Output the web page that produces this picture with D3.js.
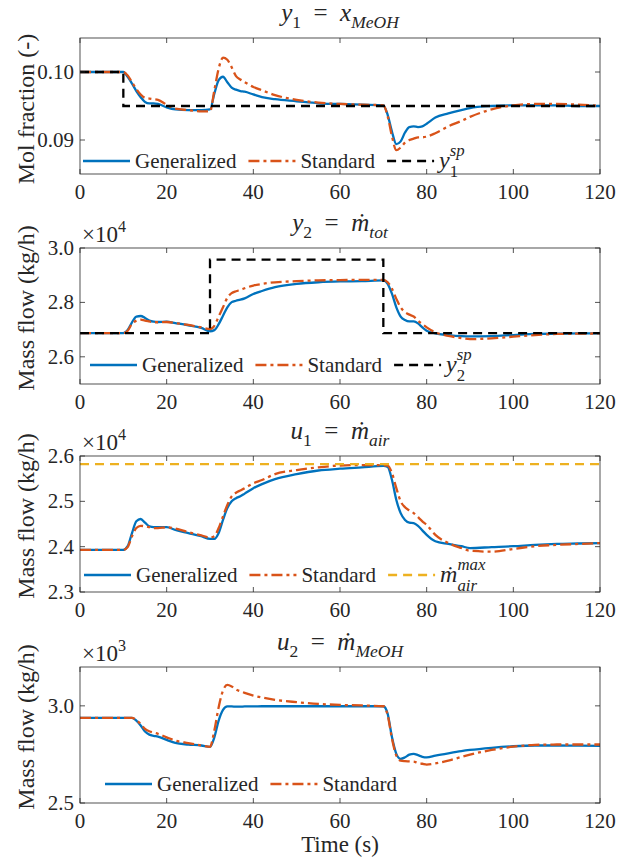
<!DOCTYPE html>
<html>
<head>
<meta charset="utf-8">
<script src="https://cdn.jsdelivr.net/npm/d3@7"></script>
<style>
  body { margin: 0; background: #fff; }
  text { font-family: "Liberation Serif", "Times New Roman", serif; fill: #262626; }
</style>
</head>
<body>
<div id="chart"></div>
<script>
// time grid (s), shared by all simulated series
const time = [0,10,11,12,13,14,15,16,17,18,20,22,25,28,30,31,32,33,34,35,36,37,38,40,42,45,50,55,60,65,70,
  71,72,73,74,75,76,77,78,79,80,82,85,88,90,95,100,105,110,115,120];

// y1 = x_MeOH (mol fraction)
const gen1 = [0.1000,0.1000,0.0993,0.0983,0.0972,0.0963,0.0956,0.0954,0.0954,0.0953,0.0948,0.0945,0.0944,0.0944,0.0945,
  0.0968,0.0988,0.0993,0.0985,0.0977,0.0974,0.0972,0.0971,0.0967,0.0963,0.0960,0.0957,0.0954,0.0953,0.0952,0.0951,
  0.0937,0.0912,0.0894,0.0898,0.0911,0.0919,0.0920,0.0919,0.0920,0.0924,0.0933,0.0939,0.0944,0.0947,0.0950,0.0951,0.0951,0.0951,0.0950,0.0950];
const std1 = [0.1000,0.1000,0.0995,0.0985,0.0975,0.0967,0.0962,0.0961,0.0960,0.0959,0.0952,0.0946,0.0944,0.0942,0.0942,
  0.0973,0.1005,0.1021,0.1018,0.1007,0.0994,0.0989,0.0985,0.0978,0.0973,0.0966,0.0959,0.0955,0.0953,0.0952,0.0951,
  0.0935,0.0905,0.0885,0.0889,0.0896,0.0900,0.0902,0.0904,0.0904,0.0905,0.0910,0.0920,0.0928,0.0934,0.0945,0.0951,0.0953,0.0953,0.0952,0.0950];
const sp1T = [0, 10, 10, 120];
const sp1V = [0.100, 0.100, 0.095, 0.095];

// y2 = total mass flow (kg/h)
const gen2 = [26870,26870,26990,27270,27480,27500,27430,27330,27290,27280,27290,27240,27160,27060,26940,
  26980,27200,27510,27820,28010,28060,28100,28150,28310,28420,28560,28680,28740,28770,28780,28810,
  28680,28310,27820,27480,27350,27300,27300,27230,27080,26960,26860,26800,26760,26750,26760,26800,26840,26850,26860,26860];
const std2 = [26870,26870,26960,27210,27330,27370,27330,27300,27270,27270,27280,27240,27170,27080,27020,
  27140,27480,27820,28170,28340,28410,28460,28520,28620,28680,28740,28780,28810,28820,28830,28830,
  28740,28500,28130,27820,27640,27550,27480,27330,27200,27080,26900,26770,26690,26650,26680,26740,26800,26840,26850,26860];
const sp2T = [0, 30, 30, 70, 70, 120];
const sp2V = [26870, 26870, 29570, 29570, 26870, 26870];

// u1 = air mass flow (kg/h)
const gen3 = [23930,23930,24010,24300,24560,24610,24530,24450,24430,24430,24430,24370,24300,24230,24170,
  24170,24300,24590,24850,25000,25070,25110,25170,25290,25380,25490,25600,25680,25720,25750,25780,
  25760,25470,25030,24740,24590,24530,24520,24460,24360,24260,24120,24060,24010,23970,23990,24010,24040,24060,24070,24080];
const std3 = [23930,23930,23990,24230,24410,24460,24450,24430,24410,24410,24430,24400,24320,24250,24200,
  24230,24410,24670,24920,25110,25190,25240,25290,25400,25470,25600,25690,25750,25790,25800,25800,
  25790,25620,25290,25000,24870,24800,24740,24650,24560,24480,24260,24080,23970,23910,23890,23950,24010,24040,24060,24080];
const max3T = [0, 120];
const max3V = [25820, 25820];

// u2 = methanol mass flow (kg/h)
const gen4 = [2938,2938,2938,2938,2924,2899,2868,2852,2846,2842,2825,2809,2801,2796,2789,
  2838,2924,2979,2997,2997,2996,2996,2997,2997,2998,2998,2998,2998,2998,2998,2998,
  2959,2838,2753,2727,2735,2749,2753,2746,2738,2735,2744,2756,2767,2773,2784,2792,2796,2796,2795,2794];
const std4 = [2938,2938,2938,2938,2927,2907,2881,2869,2862,2856,2838,2821,2808,2796,2789,
  2873,2993,3079,3108,3100,3084,3075,3067,3053,3043,3031,3019,3010,3005,3002,2998,
  2952,2830,2744,2718,2715,2714,2713,2706,2702,2698,2704,2718,2737,2749,2773,2790,2799,2801,2801,2801];

const xTicks = [0, 20, 40, 60, 80, 100, 120];

const BLUE = "#0072BD", ORANGE = "#D95319", YELLOW = "#EDB120", BLACK = "#000";
const styles = {
  gen: {color: BLUE, dash: null},
  std: {color: ORANGE, dash: "11,4,3,4"},
  sp: {color: BLACK, dash: "9,6"},
  max: {color: YELLOW, dash: "9,6"}
};

const width = 617, height = 857;
const left = 80, right = 600, ph = 136;

const svg = d3.select("#chart").append("svg")
  .attr("width", width).attr("height", height);

const x = d3.scaleLinear().domain([0, 120]).range([left, right]);

// latex-like label: one text element, pieces placed as tspans
function mathText(g, x0, y0, parts, size, anchor) {
  const t = g.append("text").style("font-size", size + "px");
  const probe = svg.append("text").style("font-size", size + "px");
  let cx = 0, last = 0, stacked = false;
  parts.forEach(p => {
    const fs = p.s ? size * 0.7 : size;
    let dy = p.s === "sub" ? size * 0.28 : (p.s === "sup" ? -size * 0.42 : 0);
    // sup/sub stacked over each other sit further apart
    if (p.stack) dy = -size * 0.52;
    else if (stacked && p.s === "sub") dy = size * 0.36;
    probe.style("font-size", fs + "px").style("font-style", p.it ? "italic" : "normal").text(p.t);
    const w = probe.node().getComputedTextLength();
    t.append("tspan")
      .attr("x", cx).attr("y", dy)
      .style("font-size", fs + "px")
      .style("font-style", p.it ? "italic" : "normal")
      .text(p.t);
    if (p.stack) { last = w; stacked = true; }
    else { cx += Math.max(w, last); last = 0; stacked = false; }
  });
  probe.remove();
  const shift = anchor === "middle" ? -cx / 2 : 0;
  t.attr("transform", `translate(${x0 + shift},${y0})`);
  return {node: t, width: cx};
}

const panels = [
  {
    top: 38, domain: [0.085, 0.105], ticks: [0.09, 0.10], fmt: d => d.toFixed(2),
    ylabel: "Mol fraction (-)", labelDy: 3, exp: null,
    title: [{t: "y", it: 1}, {t: "1", s: "sub"}, {t: "\u2002=\u2002"}, {t: "x", it: 1}, {t: "MeOH", it: 1, s: "sub"}],
    lines: [
      {t: time, v: gen1, st: "gen", smooth: true},
      {t: time, v: std1, st: "std", smooth: true},
      {t: sp1T, v: sp1V, st: "sp"}
    ],
    legendX: 83, legendY: 161,
    legend: [
      {st: "gen", parts: [{t: "Generalized"}]},
      {st: "std", parts: [{t: "Standard"}]},
      {st: "sp", math: true, parts: [{t: "y", it: 1}, {t: "sp", it: 1, s: "sup", stack: true}, {t: "1", s: "sub"}]}
    ]
  },
  {
    top: 248, domain: [25000, 30000], ticks: [26000, 28000, 30000], fmt: d => (d / 1e4).toFixed(1),
    ylabel: "Mass flow (kg/h)", labelDy: -8, exp: "4",
    title: [{t: "y", it: 1}, {t: "2", s: "sub"}, {t: "\u2002=\u2002"}, {t: "\u1e41", it: 1}, {t: "tot", it: 1, s: "sub"}],
    lines: [
      {t: time, v: gen2, st: "gen", smooth: true},
      {t: time, v: std2, st: "std", smooth: true},
      {t: sp2T, v: sp2V, st: "sp"}
    ],
    legendX: 90, legendY: 365,
    legend: [
      {st: "gen", parts: [{t: "Generalized"}]},
      {st: "std", parts: [{t: "Standard"}]},
      {st: "sp", math: true, parts: [{t: "y", it: 1}, {t: "sp", it: 1, s: "sup", stack: true}, {t: "2", s: "sub"}]}
    ]
  },
  {
    top: 456, domain: [23000, 26000], ticks: [23000, 24000, 25000, 26000], fmt: d => (d / 1e4).toFixed(1),
    ylabel: "Mass flow (kg/h)", labelDy: -8, exp: "4",
    title: [{t: "u", it: 1}, {t: "1", s: "sub"}, {t: "\u2002=\u2002"}, {t: "\u1e41", it: 1}, {t: "air", it: 1, s: "sub"}],
    lines: [
      {t: time, v: gen3, st: "gen", smooth: true},
      {t: time, v: std3, st: "std", smooth: true},
      {t: max3T, v: max3V, st: "max"}
    ],
    legendX: 84, legendY: 575,
    legend: [
      {st: "gen", parts: [{t: "Generalized"}]},
      {st: "std", parts: [{t: "Standard"}]},
      {st: "max", math: true, parts: [{t: "\u1e41", it: 1}, {t: "max", it: 1, s: "sup", stack: true}, {t: "air", it: 1, s: "sub"}]}
    ]
  },
  {
    top: 667, domain: [2500, 3200], ticks: [2500, 3000], fmt: d => (d / 1e3).toFixed(1),
    ylabel: "Mass flow (kg/h)", labelDy: -8, exp: "3",
    title: [{t: "u", it: 1}, {t: "2", s: "sub"}, {t: "\u2002=\u2002"}, {t: "\u1e41", it: 1}, {t: "MeOH", it: 1, s: "sub"}],
    lines: [
      {t: time, v: gen4, st: "gen", smooth: true},
      {t: time, v: std4, st: "std", smooth: true}
    ],
    legendX: 105, legendY: 784,
    legend: [
      {st: "gen", parts: [{t: "Generalized"}]},
      {st: "std", parts: [{t: "Standard"}]}
    ]
  }
];

panels.forEach((p, i) => {
  const top = p.top, bottom = top + ph;
  const y = d3.scaleLinear().domain(p.domain).range([bottom, top]);
  const g = svg.append("g");

  // clip to the axes box
  g.append("clipPath").attr("id", "clip" + i)
    .append("rect").attr("x", left).attr("y", top).attr("width", right - left).attr("height", ph);

  const plot = g.append("g").attr("clip-path", `url(#clip${i})`);
  p.lines.forEach(l => {
    const st = styles[l.st];
    const line = d3.line()
      .x((d, k) => x(l.t[k]))
      .y(d => y(d))
      .curve(l.smooth ? d3.curveMonotoneX : d3.curveLinear);
    plot.append("path")
      .attr("d", line(l.v))
      .attr("fill", "none")
      .attr("stroke", st.color)
      .attr("stroke-width", 2.3)
      .attr("stroke-dasharray", st.dash);
  });

  // axes, ticks pointing inward on all four sides
  const tl = 5;
  const axG = g.append("g").attr("stroke", "#262626").attr("stroke-width", 0.8);
  xTicks.forEach(t => {
    axG.append("line").attr("x1", x(t)).attr("x2", x(t)).attr("y1", bottom).attr("y2", bottom - tl);
    axG.append("line").attr("x1", x(t)).attr("x2", x(t)).attr("y1", top).attr("y2", top + tl);
  });
  p.ticks.forEach(t => {
    axG.append("line").attr("x1", left).attr("x2", left + tl).attr("y1", y(t)).attr("y2", y(t));
    axG.append("line").attr("x1", right).attr("x2", right - tl).attr("y1", y(t)).attr("y2", y(t));
  });
  axG.append("rect").attr("x", left).attr("y", top).attr("width", right - left).attr("height", ph)
    .attr("fill", "none");

  g.selectAll(".xt").data(xTicks).enter().append("text")
    .attr("x", d => x(d)).attr("y", bottom + 25)
    .attr("text-anchor", "middle").style("font-size", "21px")
    .text(d => d);
  g.selectAll(".yt").data(p.ticks).enter().append("text")
    .attr("x", left - 6).attr("y", d => y(d) + 7)
    .attr("text-anchor", "end").style("font-size", "21px")
    .text(p.fmt);

  // y label
  g.append("text")
    .attr("transform", `translate(34,${(top + bottom) / 2 + p.labelDy}) rotate(-90)`)
    .attr("text-anchor", "middle").style("font-size", "24px")
    .text(p.ylabel);

  // exponent
  if (p.exp) {
    mathText(g, left + 2, top - 6, [{t: "\u00d710"}, {t: p.exp, s: "sup"}], 23, "start");
  }

  // title
  mathText(g, (left + right) / 2, top - 17, p.title, 25, "middle");

  // legend
  let lx = p.legendX;
  p.legend.forEach(item => {
    const st = styles[item.st];
    g.append("line")
      .attr("x1", lx).attr("x2", lx + 47)
      .attr("y1", p.legendY).attr("y2", p.legendY)
      .attr("stroke", st.color).attr("stroke-width", 2.3)
      .attr("stroke-dasharray", st.dash);
    const lab = mathText(g, lx + 52, p.legendY + 7, item.parts, item.math ? 24 : 21, "start");
    lx += 52 + lab.width + 12;
  });
});

svg.append("text")
  .attr("x", (left + right) / 2).attr("y", 852)
  .attr("text-anchor", "middle").style("font-size", "23px")
  .text("Time (s)");
</script>
</body>
</html>
